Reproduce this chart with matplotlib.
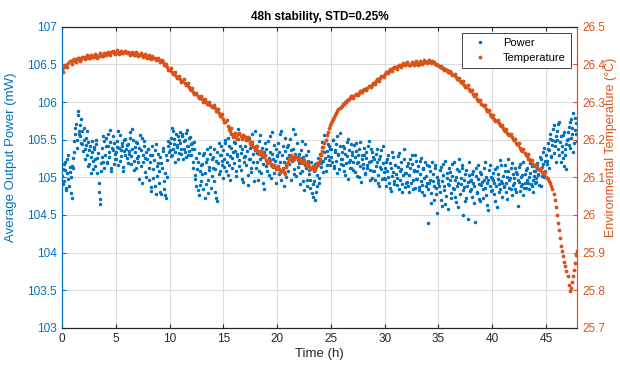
import numpy as np
import matplotlib.pyplot as plt

plt.rcParams['font.family'] = ['Liberation Sans', 'DejaVu Sans']

# power samples, one row per hour (0.1 h step, starting at 0 h)
power_a = [
    105.02, 104.91, 105.18, 105.10, 104.86, 105.24, 104.98, 105.07, 104.79, 105.15,
    105.12, 105.33, 105.58, 105.71, 105.49, 105.83, 105.62, 105.55, 105.77, 105.44,
    105.66, 105.38, 105.52, 105.29, 105.47, 105.18, 105.41, 105.06, 105.34, 105.22,
    105.37, 105.15, 105.44, 105.26, 104.92, 104.71, 105.08, 105.39, 105.21, 105.48,
    105.30, 105.52, 105.19, 105.41, 105.27, 105.63, 105.12, 105.36, 105.45, 105.24,
    105.33, 105.48, 105.17, 105.39, 105.56, 105.28, 105.42, 105.09, 105.35, 105.51,
    105.26, 105.44, 105.31, 105.60, 105.18, 105.37, 105.49, 105.22, 105.40, 105.13,
    105.45, 105.28, 104.98, 105.36, 105.52, 105.20, 105.41, 105.07, 105.33, 105.24,
    105.38, 104.96, 105.21, 104.82, 105.30, 105.11, 104.89, 105.44, 105.02, 105.19,
    104.92, 105.27, 104.78, 105.12, 105.35, 104.85, 105.06, 104.73, 105.23, 105.48,
    105.36, 105.52, 105.29, 105.61, 105.44, 105.33, 105.57, 105.40, 105.24, 105.49,
    105.46, 105.31, 105.58, 105.38, 105.50, 105.27, 105.63, 105.42, 105.35, 105.54,
    105.29, 105.45, 105.12, 105.37, 105.03, 104.88, 105.21, 104.76, 105.09, 104.95,
    105.18, 104.84, 105.32, 105.06, 104.91, 105.25, 104.79, 105.14, 105.40, 105.02,
    105.27, 104.95, 105.11, 104.72, 105.34, 105.19, 105.46, 105.08, 105.30, 105.22,
    105.36, 105.14, 105.49, 105.21, 105.03, 105.42, 105.28, 105.57, 105.12, 105.33,
    105.19, 105.45, 105.02, 105.31, 105.64, 105.23, 105.10, 105.38, 104.94, 105.27,
    105.41, 105.16, 105.35, 104.90, 105.52, 105.25, 105.07, 105.44, 105.20, 105.61,
    105.13, 105.32, 104.97, 105.48, 105.24, 105.06, 105.39, 105.18, 104.85, 105.29,
    105.37, 105.09, 105.26, 105.55, 104.99, 105.31, 105.14, 105.43, 105.22, 104.93,
    105.28, 105.46, 105.05, 105.21, 105.62, 105.12, 104.88, 105.35, 105.17, 105.40,
    105.09, 105.30, 105.51, 104.96, 105.24, 105.38, 105.11, 105.58, 105.02, 105.27,
    105.19, 104.91, 105.36, 105.08, 105.27, 104.83, 105.44, 105.13, 104.97, 105.22,
    105.05, 104.86, 105.12, 104.74, 104.95, 105.18, 104.81, 105.03, 105.26, 104.92,
    105.31, 105.14, 105.47, 105.22, 105.56, 105.09, 105.35, 105.28, 105.41, 105.17,
    105.38, 105.21, 105.50, 105.12, 105.33, 105.44, 105.06, 105.29, 105.59, 105.18,
    105.25, 105.42, 105.08, 105.31, 105.19, 105.47, 104.98, 105.36, 105.23, 105.13,
    105.34, 105.10, 105.27, 105.45, 105.02, 105.21, 105.38, 105.15, 104.94, 105.30,
    105.18, 105.39, 105.05, 105.26, 105.13, 105.48, 104.97, 105.22, 105.33, 105.09,
    105.24, 104.96, 105.15, 105.37, 105.03, 104.89, 105.28, 105.11, 105.42, 104.99,
    105.12, 104.88, 105.25, 105.01, 104.93, 105.19, 104.82, 105.34, 105.07, 104.95,
    105.16, 104.99, 105.28, 104.85, 105.09, 105.21, 104.91, 105.03, 105.38, 104.87,
    105.06, 104.94, 105.19, 104.80, 105.13, 105.30, 104.97, 105.08, 104.86, 105.22,
    104.98, 105.15, 104.83, 105.04, 105.26, 104.90, 105.11, 104.76, 105.02, 105.17,
    104.39, 104.92, 105.08, 104.79, 105.20, 104.95, 104.70, 105.12, 104.86, 104.53,
    104.97, 104.81, 105.14, 104.62, 105.03, 104.88, 105.22, 104.75, 104.99, 104.58,
    104.90, 105.07, 104.73, 105.18, 104.84, 104.96, 104.67, 105.11, 104.93, 105.25,
    104.78, 104.99, 105.13, 104.50, 104.87, 105.05, 104.72, 104.94, 105.20, 104.82,
    104.96, 104.74, 105.09, 104.88, 104.41, 105.02, 104.79, 105.16, 104.91, 104.68,
    105.04, 104.85, 104.97, 105.21, 104.76, 104.93, 104.57, 105.10, 104.89, 105.01,
    104.83, 105.06, 104.92, 104.69, 105.14, 104.98, 104.80, 105.23, 104.95, 104.74,
    105.02, 104.87, 105.17, 104.93, 104.71, 105.08, 104.96, 104.84, 105.19, 104.90,
    104.99, 105.12, 104.81, 105.05, 104.62, 104.94, 105.18, 104.88, 105.03, 104.77,
    104.92, 105.10, 104.97, 105.24, 104.85, 105.06, 104.91, 105.15, 104.80, 105.02,
    105.08, 104.94, 105.19, 105.03, 105.27, 104.89, 105.14, 105.33, 105.00, 105.22,
    105.30, 105.18, 105.45, 105.36, 105.58, 105.27, 105.50, 105.69, 105.41, 105.55,
    105.62, 105.38, 105.74, 105.47, 105.21, 105.33, 105.56, 105.15, 105.29, 105.44,
    105.51, 105.67, 105.39, 105.78, 105.58, 105.85, 105.46, 105.63, 105.72,
]

# second set of power samples, 0.05 h later than the first
power_b = [
    105.11, 104.95, 105.21, 104.83, 105.06, 105.30, 104.89, 105.14, 105.00, 104.72,
    105.26, 105.48, 105.66, 105.39, 105.88, 105.57, 105.70, 105.46, 105.61, 105.35,
    105.50, 105.24, 105.43, 105.61, 105.15, 105.36, 105.27, 105.48, 105.11, 105.40,
    105.25, 105.49, 105.06, 105.32, 104.80, 104.64, 105.19, 105.27, 105.55, 105.12,
    105.42, 105.21, 105.58, 105.33, 105.47, 105.08, 105.39, 105.55, 105.18, 105.31,
    105.25, 105.40, 105.61, 105.22, 105.36, 105.46, 105.14, 105.50, 105.29, 105.38,
    105.43, 105.19, 105.35, 105.52, 105.28, 105.64, 105.10, 105.33, 105.47, 105.26,
    105.21, 105.39, 105.56, 105.15, 104.93, 105.30, 105.48, 105.26, 105.01, 105.37,
    105.12, 105.29, 104.87, 105.41, 104.99, 105.23, 105.36, 104.78, 105.15, 105.31,
    105.08, 104.81, 105.19, 105.39, 104.95, 104.76, 105.30, 105.01, 105.42, 105.33,
    105.45, 105.28, 105.66, 105.37, 105.51, 105.20, 105.43, 105.55, 105.32, 105.60,
    105.37, 105.55, 105.24, 105.48, 105.33, 105.59, 105.41, 105.29, 105.52, 105.44,
    105.38, 105.20, 105.47, 104.98, 105.26, 105.11, 104.83, 105.32, 104.90, 105.16,
    105.05, 105.29, 104.73, 105.21, 105.37, 104.97, 105.10, 105.31, 104.86, 105.24,
    105.13, 105.38, 104.81, 105.22, 104.68, 105.05, 105.29, 105.41, 105.16, 104.99,
    105.24, 105.45, 105.09, 105.31, 105.52, 105.17, 104.96, 105.39, 105.26, 105.47,
    105.35, 105.08, 105.28, 105.51, 105.15, 105.41, 105.32, 104.98, 105.55, 105.20,
    105.28, 105.50, 105.03, 105.24, 105.39, 105.12, 105.58, 105.31, 104.95, 105.36,
    105.42, 105.21, 105.35, 105.09, 105.56, 105.27, 104.92, 105.33, 105.46, 105.15,
    105.20, 105.48, 105.03, 105.34, 105.17, 105.60, 105.25, 105.06, 105.38, 105.29,
    105.13, 105.34, 105.57, 104.97, 105.30, 105.41, 105.20, 105.52, 105.01, 105.26,
    105.43, 105.18, 105.36, 105.22, 105.64, 105.05, 105.31, 105.27, 105.45, 105.14,
    105.31, 105.06, 105.24, 105.48, 104.95, 105.16, 105.29, 104.88, 105.35, 105.10,
    104.97, 105.20, 104.79, 104.91, 105.08, 104.70, 105.14, 104.88, 104.99, 105.21,
    105.19, 105.40, 105.07, 105.33, 105.26, 105.50, 105.16, 105.44, 105.23, 105.37,
    105.27, 105.49, 105.15, 105.36, 105.22, 105.55, 105.31, 105.11, 105.42, 105.25,
    105.34, 105.16, 105.39, 105.03, 105.28, 105.51, 105.20, 105.12, 105.44, 105.30,
    105.21, 105.43, 105.07, 105.35, 105.19, 105.29, 105.01, 105.47, 105.24, 105.12,
    105.29, 105.06, 105.34, 105.17, 105.42, 105.21, 105.10, 105.38, 104.99, 105.27,
    105.09, 105.31, 105.20, 104.92, 105.25, 105.14, 105.36, 104.98, 105.19, 105.07,
    104.98, 105.21, 105.09, 105.30, 104.86, 105.13, 105.02, 105.27, 104.91, 105.17,
    105.05, 104.90, 105.14, 105.32, 104.96, 105.11, 104.80, 105.24, 105.06, 104.93,
    105.15, 104.89, 105.03, 105.25, 104.92, 105.18, 104.84, 105.10, 105.29, 104.98,
    105.09, 104.87, 105.22, 104.95, 104.81, 105.13, 104.99, 105.20, 104.88, 104.93,
    104.84, 105.15, 104.96, 104.66, 105.04, 104.89, 105.17, 104.78, 105.01, 104.93,
    104.88, 105.10, 104.70, 104.95, 105.18, 104.83, 104.64, 105.06, 104.91, 105.13,
    104.97, 104.79, 105.02, 104.86, 105.21, 104.74, 105.00, 104.89, 104.60, 105.08,
    104.91, 105.16, 104.83, 104.97, 104.69, 105.10, 104.88, 104.45, 105.03, 104.95,
    104.85, 105.05, 104.93, 104.66, 105.12, 104.80, 104.98, 104.71, 105.07, 104.90,
    104.94, 104.72, 105.13, 104.86, 105.01, 104.63, 104.96, 105.17, 104.82, 104.99,
    104.97, 104.78, 105.11, 104.89, 104.60, 105.04, 104.91, 104.85, 105.16, 104.92,
    104.88, 105.09, 104.80, 105.01, 105.24, 104.86, 104.99, 105.12, 104.77, 105.04,
    104.93, 104.84, 105.07, 104.96, 105.14, 104.82, 105.00, 104.91, 105.20, 104.86,
    105.04, 104.86, 105.13, 104.93, 105.01, 105.19, 104.88, 104.97, 105.09, 104.92,
    104.99, 105.16, 105.05, 104.90, 105.11, 105.25, 105.02, 105.18, 105.39, 105.09,
    105.22, 105.37, 105.13, 105.51, 105.28, 105.43, 105.64, 105.32, 105.48, 105.20,
    105.49, 105.71, 105.30, 105.55, 105.42, 105.26, 105.60, 105.37, 105.11, 105.50,
    105.60, 105.43, 105.73, 105.52, 105.66, 105.34, 105.79, 105.57, 105.48,
]

# temperature samples, one row per 2 hours (0.2 h step, starting at 0 h)
temp_a = [
    26.388, 26.394, 26.399, 26.404, 26.408, 26.411, 26.409, 26.414, 26.416, 26.413,
    26.419, 26.417, 26.421, 26.418, 26.423, 26.420, 26.424, 26.422, 26.426, 26.423,
    26.427, 26.430, 26.428, 26.432, 26.429, 26.433, 26.431, 26.434, 26.430, 26.432,
    26.429, 26.431, 26.427, 26.430, 26.426, 26.428, 26.424, 26.426, 26.421, 26.423,
    26.420, 26.418, 26.421, 26.416, 26.414, 26.412, 26.409, 26.405, 26.399, 26.393,
    26.386, 26.381, 26.374, 26.370, 26.366, 26.360, 26.357, 26.350, 26.346, 26.339,
    26.333, 26.327, 26.320, 26.317, 26.311, 26.307, 26.303, 26.300, 26.296, 26.292,
    26.289, 26.283, 26.276, 26.270, 26.262, 26.255, 26.246, 26.236, 26.224, 26.215,
    26.212, 26.208, 26.214, 26.209, 26.213, 26.206, 26.204, 26.198, 26.187, 26.180,
    26.176, 26.170, 26.162, 26.165, 26.153, 26.146, 26.141, 26.136, 26.130, 26.127,
    26.124, 26.121, 26.118, 26.115, 26.128, 26.142, 26.151, 26.155, 26.150, 26.153,
    26.148, 26.144, 26.140, 26.137, 26.133, 26.129, 26.126, 26.124, 26.130, 26.134,
    26.148, 26.170, 26.190, 26.212, 26.230, 26.244, 26.255, 26.266, 26.276, 26.284,
    26.290, 26.296, 26.301, 26.306, 26.311, 26.315, 26.318, 26.322, 26.325, 26.328,
    26.331, 26.335, 26.338, 26.342, 26.346, 26.350, 26.355, 26.360, 26.365, 26.370,
    26.375, 26.379, 26.383, 26.386, 26.390, 26.392, 26.395, 26.397, 26.399, 26.401,
    26.400, 26.402, 26.399, 26.403, 26.401, 26.404, 26.402, 26.405, 26.403, 26.406,
    26.408, 26.406, 26.409, 26.405, 26.402, 26.398, 26.395, 26.391, 26.388, 26.384,
    26.380, 26.376, 26.371, 26.366, 26.362, 26.357, 26.351, 26.346, 26.341, 26.335,
    26.329, 26.322, 26.316, 26.309, 26.302, 26.296, 26.289, 26.282, 26.275, 26.268,
    26.261, 26.255, 26.249, 26.243, 26.236, 26.230, 26.224, 26.219, 26.212, 26.206,
    26.199, 26.192, 26.186, 26.178, 26.171, 26.164, 26.157, 26.150, 26.143, 26.136,
    26.131, 26.126, 26.120, 26.115, 26.109, 26.102, 26.095, 26.085, 26.068, 26.040,
    26.000, 25.960, 25.918, 25.890, 25.864, 25.838, 25.798, 25.822, 25.855, 25.895,
]

# second set of temperature samples, 0.1 h later than the first
temp_b = [
    26.380, 26.398, 26.392, 26.409, 26.402, 26.415, 26.406, 26.418, 26.410, 26.419,
    26.414, 26.424, 26.416, 26.426, 26.419, 26.427, 26.418, 26.429, 26.421, 26.430,
    26.424, 26.434, 26.426, 26.436, 26.428, 26.437, 26.427, 26.436, 26.429, 26.435,
    26.434, 26.425, 26.433, 26.424, 26.432, 26.422, 26.430, 26.420, 26.427, 26.418,
    26.424, 26.414, 26.418, 26.411, 26.418, 26.407, 26.412, 26.398, 26.402, 26.386,
    26.390, 26.375, 26.379, 26.364, 26.370, 26.354, 26.361, 26.344, 26.350, 26.334,
    26.337, 26.321, 26.325, 26.311, 26.316, 26.301, 26.308, 26.295, 26.299, 26.287,
    26.293, 26.277, 26.281, 26.264, 26.268, 26.248, 26.251, 26.228, 26.230, 26.207,
    26.217, 26.203, 26.218, 26.202, 26.209, 26.199, 26.208, 26.191, 26.193, 26.172,
    26.182, 26.163, 26.170, 26.156, 26.160, 26.139, 26.147, 26.130, 26.134, 26.121,
    26.129, 26.114, 26.122, 26.109, 26.135, 26.148, 26.158, 26.147, 26.157, 26.146,
    26.152, 26.138, 26.145, 26.131, 26.138, 26.122, 26.131, 26.119, 26.137, 26.141,
    26.158, 26.180, 26.200, 26.220, 26.238, 26.250, 26.261, 26.271, 26.281, 26.287,
    26.294, 26.299, 26.306, 26.309, 26.316, 26.312, 26.322, 26.319, 26.329, 26.326,
    26.335, 26.332, 26.342, 26.339, 26.351, 26.347, 26.360, 26.357, 26.369, 26.367,
    26.380, 26.376, 26.388, 26.383, 26.394, 26.389, 26.399, 26.394, 26.403, 26.398,
    26.405, 26.397, 26.407, 26.398, 26.408, 26.399, 26.410, 26.401, 26.411, 26.403,
    26.412, 26.403, 26.407, 26.400, 26.398, 26.392, 26.391, 26.385, 26.384, 26.379,
    26.383, 26.371, 26.374, 26.362, 26.365, 26.352, 26.355, 26.341, 26.344, 26.330,
    26.333, 26.317, 26.320, 26.304, 26.306, 26.291, 26.293, 26.277, 26.279, 26.263,
    26.266, 26.250, 26.253, 26.238, 26.240, 26.225, 26.228, 26.214, 26.216, 26.201,
    26.203, 26.188, 26.190, 26.173, 26.175, 26.160, 26.161, 26.146, 26.147, 26.132,
    26.134, 26.122, 26.124, 26.111, 26.113, 26.098, 26.090, 26.077, 26.055, 26.020,
    25.980, 25.938, 25.905, 25.876, 25.850, 25.815, 25.805, 25.838, 25.872, 25.905,
]

t_power_a = np.linspace(0, 47.8, len(power_a))
t_power_b = np.linspace(0.05, 47.85, len(power_b))
t_temp_a = np.linspace(0, 47.8, len(temp_a))
t_temp_b = np.linspace(0.1, 47.9, len(temp_b))

blue = '#0072BD'
orange = '#D95319'
dark = '#262626'

fig = plt.figure(figsize=(6.2, 3.66), dpi=100)
ax = fig.add_axes([0.1, 0.104, 0.831, 0.823])
ax2 = ax.twinx()

p1, = ax.plot(np.concatenate([t_power_a, t_power_b]), power_a + power_b, '.',
              color=blue, markersize=3, label='Power')
p2, = ax2.plot(np.concatenate([t_temp_a, t_temp_b]), temp_a + temp_b, '.',
               color=orange, markersize=3.5, label='Temperature')

ax.set_xlim(0, 47.9)
ax.set_ylim(103, 107)
ax2.set_ylim(25.7, 26.5)
ax.set_xticks(np.arange(0, 46, 5))
ax.set_yticks(np.arange(103, 107.1, 0.5))
ax.set_yticklabels(['103', '103.5', '104', '104.5', '105', '105.5', '106', '106.5', '107'])
ax2.set_yticks(np.arange(25.7, 26.51, 0.1))
ax2.set_yticklabels(['25.7', '25.8', '25.9', '26', '26.1', '26.2', '26.3', '26.4', '26.5'])

ax.grid(True, color='#dcdcdc', linewidth=0.8)
ax.set_axisbelow(True)

ax.tick_params(axis='x', direction='in', colors=dark, labelsize=8.5, top=True, length=3)
ax.tick_params(axis='y', direction='in', colors=blue, labelsize=8.5, length=3)
ax2.tick_params(axis='y', direction='in', colors=orange, labelsize=8.5, length=3)

for a in (ax, ax2):
    a.spines['top'].set_color(dark)
    a.spines['bottom'].set_color(dark)
    a.spines['left'].set_color(blue)
    a.spines['right'].set_color(orange)

ax.set_xlabel('Time (h)', fontsize=9.5, color=dark, labelpad=2)
ax.set_ylabel('Average Output Power (mW)', fontsize=9.5, color=blue)
ax2.set_ylabel('Environmental Temperature (\u00b0C)', fontsize=9, color=orange)
ax.yaxis.set_label_coords(-0.088, 0.567)
ax2.yaxis.set_label_coords(1.054, 0.6)
ax.set_title('48h stability, STD=0.25%', fontsize=8.5, fontweight='bold', pad=5)

leg = ax2.legend(handles=[p1, p2], loc='upper right', fontsize=8, fancybox=False,
                 edgecolor=dark, framealpha=1, handlelength=2.5, borderaxespad=0.6)
leg.get_frame().set_linewidth(0.6)

fig.savefig('out.png', dpi=100)
